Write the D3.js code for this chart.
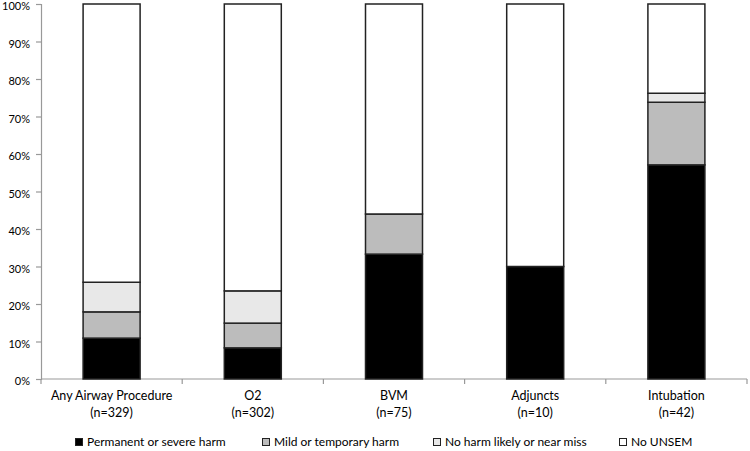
<!DOCTYPE html>
<html><head><meta charset="utf-8">
<script src="https://cdn.jsdelivr.net/npm/d3@7"></script>
<style>body{margin:0;background:#fff}svg{display:block}text{font-family:Lato,"Open Sans",sans-serif;fill:#000}</style>
</head><body>
<svg id="c" width="750" height="451"></svg>
<script>
const categories = ["Any Airway Procedure", "O2", "BVM", "Adjuncts", "Intubation"];
const counts = ["(n=329)", "(n=302)", "(n=75)", "(n=10)", "(n=42)"];
const seriesNames = ["Permanent or severe harm", "Mild or temporary harm", "No harm likely or near miss", "No UNSEM"];
const permanent = [10.9, 8.3, 33.3, 30.0, 57.1];
const mild = [7.0, 6.6, 10.7, 0, 16.7];
const noHarm = [7.9, 8.6, 0, 0, 2.4];
const noUnsem = [74.2, 76.5, 56.0, 70.0, 23.8];
const colors = ["#000000", "#bcbcbc", "#e8e8e8", "#ffffff"];
const yTicks = [0, 10, 20, 30, 40, 50, 60, 70, 80, 90, 100];

const svg = d3.select("#c");
const m = {l: 41, r: 747, t: 4, b: 379};
const x = d3.scaleBand().domain(categories).range([m.l, m.r]).paddingInner(0).paddingOuter(0);
const y = d3.scaleLinear().domain([0, 100]).range([m.b, m.t]);

const rows = categories.map((c, i) => ({cat: c, s0: permanent[i], s1: mild[i], s2: noHarm[i], s3: noUnsem[i]}));
const stack = d3.stack().keys(["s0", "s1", "s2", "s3"])(rows);

// y axis
const ya = svg.append("g").attr("transform", `translate(${m.l},0)`)
  .call(d3.axisLeft(y).tickValues(yTicks).tickFormat(d => d + "%").tickSize(5).tickPadding(6));
ya.select(".domain").attr("stroke", "#999").attr("stroke-width", 1.2);
ya.selectAll(".tick line").attr("stroke", "#999").attr("stroke-width", 1.2);
ya.selectAll("text").style("font-size", "11px").attr("fill", "#111").attr("transform", "translate(0,2)");

// x axis
const xa = svg.append("g").attr("transform", `translate(0,${m.b})`);
xa.append("line").attr("x1", m.l).attr("x2", m.r).attr("stroke", "#999").attr("stroke-width", 1.2);
const edges = categories.map(c => x(c)).concat([m.r]);
edges.forEach(e => {
  xa.append("line").attr("x1", e).attr("x2", e).attr("y1", 0).attr("y2", 5)
    .attr("stroke", "#999").attr("stroke-width", 1.2);
});
categories.forEach((c, i) => {
  const cx = x(c) + x.bandwidth() / 2;
  xa.append("text").attr("x", cx).attr("y", 21).attr("text-anchor", "middle").style("font-size", "12.5px").text(c);
  xa.append("text").attr("x", cx).attr("y", 38).attr("text-anchor", "middle").style("font-size", "12.5px").text(counts[i]);
});

// bars
const bw = 57;
stack.forEach((layer, k) => {
  svg.append("g").selectAll("rect").data(layer.filter(d => d[1] - d[0] > 0)).join("rect")
    .attr("x", d => x(d.data.cat) + x.bandwidth() / 2 - bw / 2)
    .attr("width", bw)
    .attr("y", d => y(d[1]))
    .attr("height", d => y(d[0]) - y(d[1]))
    .attr("fill", colors[k])
    .attr("stroke", "#222").attr("stroke-width", 1.5);
});

// legend
const legX = [75, 262, 433, 619];
const lg = svg.append("g");
seriesNames.forEach((n, i) => {
  lg.append("rect").attr("x", legX[i] + 0.5).attr("y", 438.5).attr("width", 7).attr("height", 7)
    .attr("fill", colors[i]).attr("stroke", "#222").attr("stroke-width", 1);
  lg.append("text").attr("x", legX[i] + 12).attr("y", 446).style("font-size", "12px").text(n);
});
</script>
</body></html>
